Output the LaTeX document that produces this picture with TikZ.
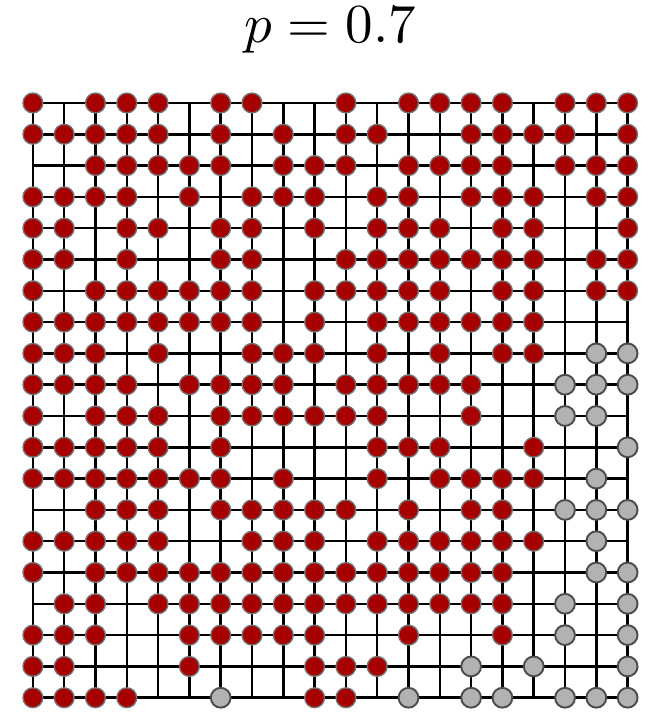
\documentclass[tikz,border=0pt]{standalone}
\usepackage{tikz}
\tikzstyle{bond} = [black, line width=0.45pt]
\tikzstyle{wet} = [circle, inner sep=0pt, minimum size=3.6pt, draw=black!55, line width=0.25pt, fill=red!65!black]
\tikzstyle{dry} = [circle, inner sep=0pt, minimum size=3.6pt, draw=black!70, line width=0.35pt, fill=black!30]

\begin{document}
\begin{tikzpicture}[x=0.2cm, y=0.2cm]
\useasboundingbox (-1.05,3.29) rectangle (19.62,-19.52);

% Title
\node (title) [anchor=base] at (9.5,1.92) {$p = 0.7$};

% Lattice sites
\foreach \rw in {0,...,19}
  \foreach \col in {0,...,19}
    \coordinate (p-\rw-\col) at (\col,-\rw);

% Bonds
\foreach \i in {0,...,19} {
  \draw [bond] (p-\i-0) -- (p-\i-19);
  \draw [bond] (p-0-\i) -- (p-19-\i);
}

% Occupied sites (r = spanning cluster, g = other cluster, o = empty)
\foreach \row [count=\rw from 0] in {
  {r,o,r,r,r,o,r,r,o,o,r,o,r,r,r,r,o,r,r,r},
  {r,r,r,r,r,o,r,o,r,o,r,r,o,o,r,r,r,r,o,r},
  {o,o,r,r,r,r,r,o,r,r,r,o,r,r,r,r,o,r,r,r},
  {r,r,r,r,o,r,o,r,r,r,o,r,r,o,r,r,r,o,r,r},
  {r,r,o,r,r,o,r,r,o,r,o,r,r,r,o,r,r,o,o,r},
  {r,r,o,r,o,o,r,r,o,o,r,r,r,r,r,r,r,o,r,r},
  {r,o,r,r,r,r,r,r,o,r,r,r,r,r,o,r,r,o,r,r},
  {r,r,r,r,r,r,r,r,o,r,o,r,r,r,r,r,r,o,o,o},
  {r,r,r,o,r,o,o,r,r,r,o,r,o,r,o,r,r,o,g,g},
  {r,r,r,r,o,r,r,r,r,o,r,r,r,r,r,o,o,g,g,g},
  {r,o,r,r,r,o,r,r,r,r,r,r,o,o,r,o,o,g,g,o},
  {r,r,r,r,r,o,r,o,o,o,o,r,r,r,o,o,r,o,o,g},
  {r,r,r,r,r,r,r,o,r,o,o,r,o,r,r,r,r,o,g,o},
  {o,o,r,r,r,o,r,r,r,r,r,o,r,o,r,r,o,g,g,g},
  {r,r,r,r,r,o,o,r,r,r,o,r,r,r,r,r,r,o,g,o},
  {r,o,r,r,r,r,r,r,r,r,r,r,r,r,r,r,o,o,g,g},
  {o,r,r,o,r,r,r,r,r,r,r,r,r,r,r,r,o,g,o,g},
  {r,r,r,o,o,r,r,r,r,r,o,o,r,o,o,r,o,g,o,g},
  {r,r,o,o,o,r,o,o,o,r,r,r,o,o,g,o,g,o,o,g},
  {r,r,r,r,o,o,g,o,o,r,r,o,g,o,g,g,o,g,g,g}} {
  \foreach \s [count=\col from 0] in \row {
    \if\s r \node (s-\rw-\col) [wet] at (p-\rw-\col) {}; \fi
    \if\s g \node (s-\rw-\col) [dry] at (p-\rw-\col) {}; \fi
  }
}

\end{tikzpicture}
\end{document}
